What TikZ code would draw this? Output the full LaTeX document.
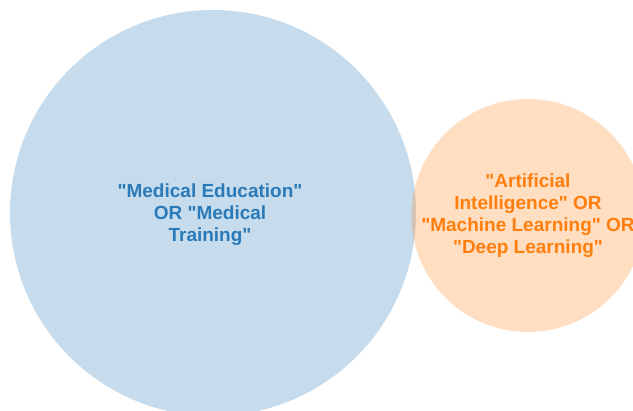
\documentclass[tikz,border=0pt]{standalone}
\usepackage{fontspec}
\setmainfont{Liberation Sans}[Ligatures=TeXOff]
\definecolor{vblue}{HTML}{1F77B4}
\definecolor{vorange}{HTML}{FF7F0E}
\definecolor{vbluetext}{HTML}{2A7AB9}
\begin{document}
\begin{tikzpicture}[x=1pt,y=-1pt,
  setcircle/.style={circle, inner sep=0pt, fill opacity=0.25, text opacity=1},
  setlabel/.style={font=\fontsize{19}{22}\selectfont\bfseries, align=center}]
\useasboundingbox (0,0) rectangle (633,411);
\fill[white] (0,0) rectangle (633,411);
\node[setcircle, fill=vblue, minimum size=406pt] (A) at (213,213) {};
\node[setcircle, fill=vorange, minimum size=233pt] (B) at (528,215.5) {};
\node[setlabel, text=vbluetext] (LA) at (210,215) {"Medical Education"\\OR "Medical\\Training"};
\node[setlabel, text=vorange] (LB) at (528,215.5) {"Artificial\\Intelligence" OR\\"Machine Learning" OR\\"Deep Learning"};
\end{tikzpicture}
\end{document}
